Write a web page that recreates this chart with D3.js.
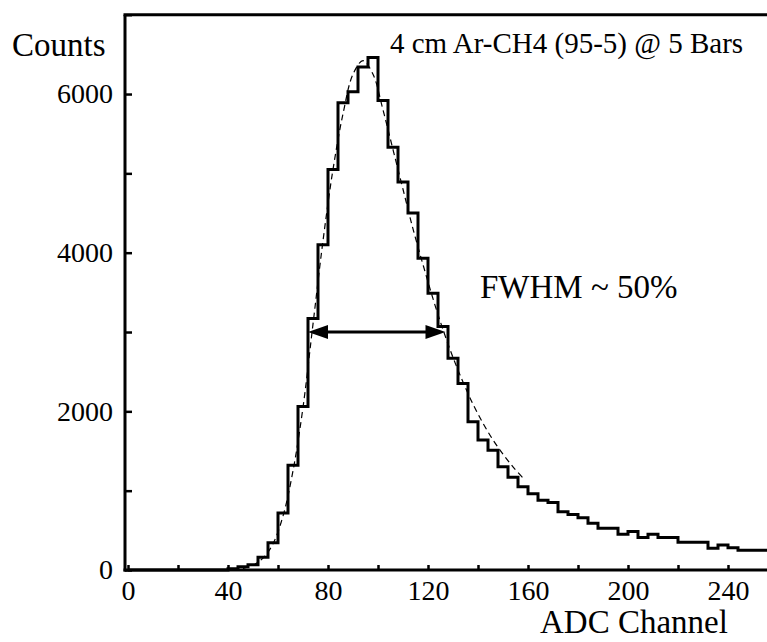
<!DOCTYPE html>
<html>
<head>
<meta charset="utf-8">
<script src="https://cdn.jsdelivr.net/npm/d3@7"></script>
<style>
  body { margin: 0; background: #fff; }
  text { font-family: "Liberation Serif", "Times New Roman", serif; fill: #000; }
  .tick line { stroke: #000; stroke-width: 2.5; }
  .tickLabel { font-size: 28px; }
  .axisLabel { font-size: 33px; }
  .note { font-size: 29px; }
  .fwhm { font-size: 33px; }
</style>
</head>
<body>
<div id="chart"></div>
<script>
// Histogram bins (lower edge of each 4-channel bin) and counts
var binLow = [0, 4, 8, 12, 16, 20, 24, 28, 32, 36,
  40, 44, 48, 52, 56, 60, 64, 68, 72, 76,
  80, 84, 88, 92, 96, 100, 104, 108, 112, 116,
  120, 124, 128, 132, 136, 140, 144, 148, 152, 156,
  160, 164, 168, 172, 176, 180, 184, 188, 192, 196,
  200, 204, 208, 212, 216, 220, 224, 228, 232, 236,
  240, 244, 248, 252];
var binCounts = [0, 0, 0, 0, 0, 0, 0, 0, 0, 0,
  15, 40, 65, 160, 345, 720, 1320, 2060, 3170, 4100,
  5050, 5890, 6030, 6340, 6460, 5920, 5330, 4890, 4500, 3930,
  3490, 3070, 2670, 2350, 1870, 1640, 1510, 1300, 1170, 1050,
  960, 880, 850, 735, 700, 660, 590, 525, 525, 450,
  485, 410, 450, 410, 410, 350, 350, 350, 275, 315,
  280, 250, 250, 250];
var binWidth = 4;

// Dashed fit curve
var fitChannel = [42, 46, 50, 54, 58, 62, 66, 70, 74, 78, 82, 86, 90, 94, 98,
  102, 106, 110, 114, 118, 122, 126, 130, 134, 138, 142, 146, 150, 154, 158];
var fitCount = [0, 20, 60, 150, 330, 680, 1250, 2050, 3100, 4150, 5050, 5750, 6250, 6420, 6250,
  5800, 5300, 4800, 4300, 3850, 3420, 3030, 2680, 2370, 2090, 1850, 1640, 1460, 1300, 1160];

// Axis ticks
var xTicks = [0, 20, 40, 60, 80, 100, 120, 140, 160, 180, 200, 220, 240];
var xLabels = [0, 40, 80, 120, 160, 200, 240];
var yTicks = [0, 1000, 2000, 3000, 4000, 5000, 6000, 7000];
var yLabels = [0, 2000, 4000, 6000];

// FWHM arrow: channels and level
var fwhmChannels = [72, 127];
var fwhmLevel = 3000;

// Set Spacing Guidelines
var margin = {top: 14.7, right: 0, bottom: 72, left: 128};
var width = 767 - margin.left + 1;
var height = 642 - margin.top - margin.bottom;

var svg = d3.select("#chart")
  .append("svg")
  .attr("width", 767)
  .attr("height", 642);

var g = svg.append("g")
  .attr("transform", "translate(" + margin.left + "," + margin.top + ")");

var xScale = d3.scaleLinear().domain([0, 256]).range([0, width]);
var yScale = d3.scaleLinear().domain([0, 7000]).range([height, 0]);

// y axis, ticks pointing inward
var yAxis = g.append("g")
  .attr("transform", "translate(-3,0)")
  .call(d3.axisLeft(yScale)
    .tickValues(yTicks)
    .tickSize(-7)
    .tickSizeOuter(0)
    .tickPadding(12)
    .tickFormat(function(d) { return yLabels.indexOf(d) >= 0 ? d : ""; }));
yAxis.select(".domain").remove();
yAxis.selectAll("text").attr("class", "tickLabel").attr("fill", null);
yAxis.attr("font-family", null).attr("font-size", null);

// x axis, ticks pointing up
var xAxis = g.append("g")
  .attr("transform", "translate(0," + height + ")")
  .call(d3.axisBottom(xScale)
    .tickValues(xTicks)
    .tickSize(-5)
    .tickSizeOuter(0)
    .tickPadding(10)
    .tickFormat(function(d) { return xLabels.indexOf(d) >= 0 ? d : ""; }));
xAxis.select(".domain").remove();
xAxis.selectAll("text").attr("class", "tickLabel").attr("fill", null);
xAxis.attr("font-family", null).attr("font-size", null);

// Frame lines
var frame = g.append("g")
  .attr("stroke", "#000")
  .attr("stroke-width", 3)
  .attr("fill", "none");
frame.append("line")
  .attr("x1", -3).attr("y1", 0).attr("x2", -3).attr("y2", height + 1.5);
frame.append("line")
  .attr("x1", -4.5).attr("y1", 0).attr("x2", width).attr("y2", 0);
frame.append("line")
  .attr("x1", -4.5).attr("y1", height).attr("x2", width).attr("y2", height);

// Histogram as a step line
var histPoints = binLow.map(function(d, i) { return [d, binCounts[i]]; });
histPoints.push([binLow[binLow.length - 1] + binWidth, binCounts[binCounts.length - 1]]);

var stepLine = d3.line()
  .x(function(d) { return xScale(d[0]); })
  .y(function(d) { return yScale(d[1]); })
  .curve(d3.curveStepAfter);

g.append("path")
  .datum(histPoints)
  .attr("d", stepLine)
  .attr("fill", "none")
  .attr("stroke", "#000")
  .attr("stroke-width", 3);

// Dashed fit curve
var fitLine = d3.line()
  .x(function(d, i) { return xScale(fitChannel[i]); })
  .y(function(d) { return yScale(d); })
  .curve(d3.curveCatmullRom);

g.append("path")
  .datum(fitCount)
  .attr("d", fitLine)
  .attr("fill", "none")
  .attr("stroke", "#000")
  .attr("stroke-width", 1.2)
  .attr("stroke-dasharray", "6,4");

// FWHM arrow
var ax1 = xScale(fwhmChannels[0]), ax2 = xScale(fwhmChannels[1]), ay = yScale(fwhmLevel);
var headLen = 20, headHalf = 7;
g.append("line")
  .attr("x1", ax1 + headLen - 2).attr("y1", ay)
  .attr("x2", ax2 - headLen + 2).attr("y2", ay)
  .attr("stroke", "#000")
  .attr("stroke-width", 3);
g.append("path")
  .attr("d", "M" + ax1 + "," + ay + "L" + (ax1 + headLen) + "," + (ay - headHalf) + "L" + (ax1 + headLen) + "," + (ay + headHalf) + "Z")
  .attr("fill", "#000");
g.append("path")
  .attr("d", "M" + ax2 + "," + ay + "L" + (ax2 - headLen) + "," + (ay - headHalf) + "L" + (ax2 - headLen) + "," + (ay + headHalf) + "Z")
  .attr("fill", "#000");

// Axis titles
svg.append("text")
  .attr("x", 12)
  .attr("y", 56)
  .attr("class", "axisLabel")
  .text("Counts");

svg.append("text")
  .attr("x", 540)
  .attr("y", 633)
  .attr("class", "axisLabel")
  .text("ADC Channel");

// Annotations
svg.append("text")
  .attr("x", 390)
  .attr("y", 53)
  .attr("class", "note")
  .text("4 cm Ar-CH4 (95-5) @ 5 Bars");

svg.append("text")
  .attr("x", 480)
  .attr("y", 298)
  .attr("class", "fwhm")
  .text("FWHM ~ 50%");
</script>
</body>
</html>
